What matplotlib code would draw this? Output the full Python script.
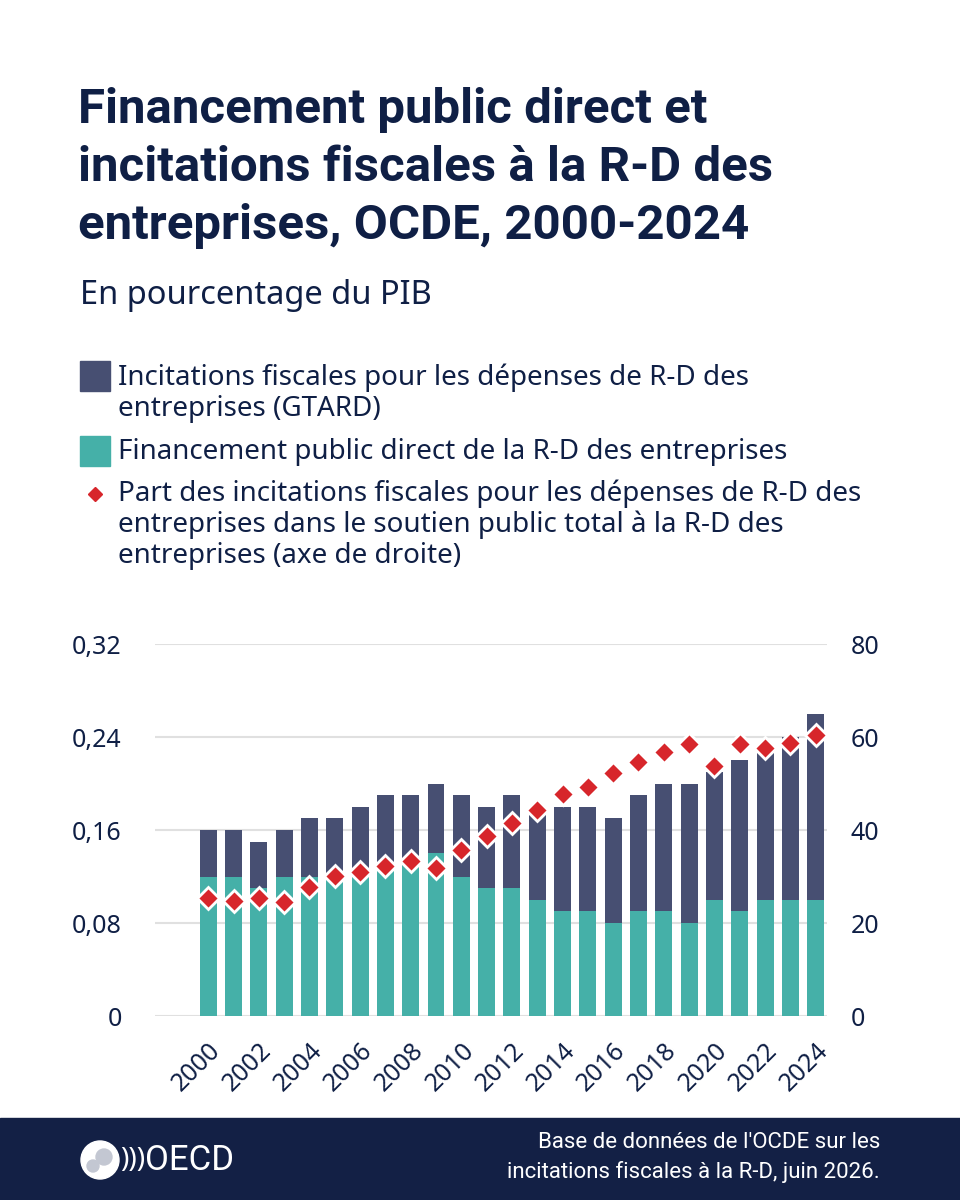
import matplotlib.pyplot as plt
from matplotlib.patches import Rectangle, Circle
import numpy as np

plt.rcParams['font.family'] = ['Noto Sans', 'DejaVu Sans']

# data
years = list(range(2000, 2025))
direct = [0.12, 0.12, 0.11, 0.12, 0.12, 0.12, 0.12, 0.13, 0.13, 0.14,
          0.12, 0.11, 0.11, 0.10, 0.09, 0.09, 0.08, 0.09, 0.09, 0.08,
          0.10, 0.09, 0.10, 0.10, 0.10]
total = [0.16, 0.16, 0.15, 0.16, 0.17, 0.17, 0.18, 0.19, 0.19, 0.20,
         0.19, 0.18, 0.19, 0.18, 0.18, 0.18, 0.17, 0.19, 0.20, 0.20,
         0.21, 0.22, 0.23, 0.24, 0.26]
share = [25.3, 24.8, 25.4, 24.6, 27.8, 30.1, 30.9, 32.3, 33.4, 31.8,
         35.8, 38.8, 41.6, 44.3, 47.7, 49.2, 52.3, 54.7, 56.7, 58.6,
         53.8, 58.4, 57.7, 58.8, 60.4]
left_ticks = [0, 0.08, 0.16, 0.24, 0.32]
left_labels = ['0', '0,08', '0,16', '0,24', '0,32']
right_ticks = [0, 20, 40, 60, 80]

title_lines = ['Financement public direct et',
               'incitations fiscales à la R-D des',
               'entreprises, OCDE, 2000-2024']
legend_tax = ['Incitations fiscales pour les dépenses de R-D des',
              'entreprises (GTARD)']
legend_direct = ['Financement public direct de la R-D des entreprises']
legend_share = ['Part des incitations fiscales pour les dépenses de R-D des',
                'entreprises dans le soutien public total à la R-D des',
                'entreprises (axe de droite)']

navy = '#0f1f45'
c_tax = '#474f72'
c_direct = '#45b0a8'
c_share = '#d7262b'

tax = np.array(total) - np.array(direct)
x = np.arange(len(years))


def fy(py):
    # pixel row -> figure fraction
    return 1 - py / 1200


fig = plt.figure(figsize=(9.6, 12), dpi=100)
ax = fig.add_axes([0.1615, 0.1533, 0.70, 0.31])
ax.bar(x, direct, width=0.67, color=c_direct, zorder=2)
ax.bar(x, tax, bottom=direct, width=0.67, color=c_tax, zorder=2)
ax.set_ylim(0, 0.32)
ax.set_xlim(-2.1, 24.45)
ax.set_yticks(left_ticks)
ax.set_yticklabels(left_labels)
ax.yaxis.grid(True, color='#e0e0e0', lw=1.5, zorder=0)
for s in ax.spines.values():
    s.set_visible(False)
ax.tick_params(axis='y', length=0, labelsize=18, labelcolor=navy, pad=24)
ax.set_xticks(x[::2])
ax.set_xticklabels([str(y) for y in years[::2]], rotation=45, ha='right',
                   rotation_mode='anchor')
ax.tick_params(axis='x', length=0, labelsize=18, labelcolor=navy, pad=16)

ax2 = ax.twinx()
ax2.plot(x, share, ls='none', marker='D', ms=11, mfc=c_share, mec='white',
         mew=2, zorder=5)
ax2.set_ylim(0, 80)
ax2.set_yticks(right_ticks)
for s in ax2.spines.values():
    s.set_visible(False)
ax2.tick_params(axis='y', length=0, labelsize=18, labelcolor=navy, pad=17)

# title block
for i, line in enumerate(title_lines):
    fig.text(78 / 960, fy(123 + 58 * i), line, fontsize=35.5,
             fontweight='bold', color=navy, va='baseline', ha='left',
             family=['Roboto', 'DejaVu Sans'])
fig.text(80 / 960, fy(295), 'En pourcentage du PIB', fontsize=23.5,
         color=navy, va='center', ha='left')

# legend
fig.patches.append(Rectangle((80 / 960, fy(391)), 30 / 960, 30 / 1200,
                             transform=fig.transFigure, color=c_tax))
for i, line in enumerate(legend_tax):
    fig.text(118 / 960, fy(378 + 31 * i), line, fontsize=20, color=navy,
             va='center', ha='left')
fig.patches.append(Rectangle((80 / 960, fy(466)), 30 / 960, 30 / 1200,
                             transform=fig.transFigure, color=c_direct))
for i, line in enumerate(legend_direct):
    fig.text(118 / 960, fy(452 + 31 * i), line, fontsize=20, color=navy,
             va='center', ha='left')
fig.lines.append(plt.Line2D([95 / 960], [fy(494)], marker='D', ms=7,
                            color=c_share, transform=fig.transFigure))
for i, line in enumerate(legend_share):
    fig.text(118 / 960, fy(494 + 31 * i), line, fontsize=20, color=navy,
             va='center', ha='left')

# footer band
fig.patches.append(Rectangle((0, 0), 1, 82 / 1200, transform=fig.transFigure,
                             color='#132045'))
globe = fig.add_axes([80 / 960, fy(1180), 40 / 960, 40 / 1200])
globe.set_zorder(3)
globe.set_xlim(-1, 1)
globe.set_ylim(-1, 1)
globe.set_aspect('equal')
globe.axis('off')
globe.add_patch(Circle((0, 0), 0.95, color='white'))
globe.add_patch(Circle((0.2, 0.15), 0.4, color='#c3c7d2'))
globe.add_patch(Circle((-0.35, -0.3), 0.3, color='#c3c7d2'))
fig.text(120 / 960, fy(1160), ')))', fontsize=20, color='white',
         fontweight='bold', va='center', ha='left')
fig.text(145 / 960, fy(1160), 'OECD', fontsize=25, color='white',
         va='center', ha='left', family=['Roboto', 'DejaVu Sans'])
fig.text(880 / 960, fy(1143), "Base de données de l'OCDE sur les",
         fontsize=16, color='white', va='center', ha='right',
         family=['Roboto', 'DejaVu Sans'])
fig.text(880 / 960, fy(1172), "incitations fiscales à la R-D, juin 2026.",
         fontsize=16, color='white', va='center', ha='right',
         family=['Roboto', 'DejaVu Sans'])

fig.savefig('out.png', dpi=100, facecolor='white')
